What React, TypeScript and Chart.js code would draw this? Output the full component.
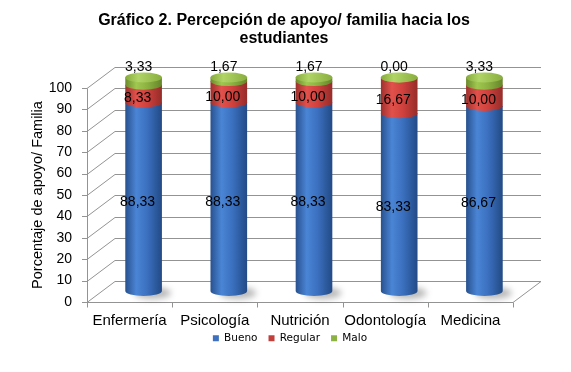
import React, { useEffect, useRef } from "react";
import { Chart, registerables } from "chart.js";

Chart.register(...registerables);

const categories = ["Enfermería", "Psicología", "Nutrición", "Odontología", "Medicina"];
const seriesNames = ["Bueno", "Regular", "Malo"];
const bueno = [88.33, 88.33, 88.33, 83.33, 86.67];
const regular = [8.33, 10.0, 10.0, 16.67, 10.0];
const malo = [3.33, 1.67, 1.67, 0.0, 3.33];
const yMin = 0;
const yMax = 100;
const yStep = 10;
const titleLines = ["Gráfico 2. Percepción de apoyo/ familia hacia los", "estudiantes"];
const yTitle = "Porcentaje de apoyo/ Familia";

const legendColors = ["#3d70bf", "#c2403c", "#8db244"];
const gradStops = [
  [[0, "#28518e"], [0.3, "#4a85d5"], [0.6, "#3b70bf"], [1, "#224a85"]],
  [[0, "#9e302d"], [0.3, "#e2514c"], [0.6, "#cf413d"], [1, "#952c29"]],
  [[0, "#6b8a2c"], [0.3, "#a0c750"], [0.6, "#8cb141"], [1, "#65852a"]],
];
const capStops = [[0, "#86aa3c"], [0.35, "#b0d465"], [1, "#8aad40"]];

const DX = 28;
const DY = -21;
const RY = 5;
const FONT = "'Liberation Sans', Arial, sans-serif";

const fmt = (v: number) => v.toFixed(2).replace(".", ",");

const walls3d = {
  id: "walls3d",
  afterLayout(chart: any) {
    const lg = chart.legend;
    if (lg) {
      lg.left += 21;
      lg.right += 21;
      lg.top -= 8;
      lg.bottom -= 8;
    }
    const tb = chart.titleBlock;
    if (tb) {
      tb.left += 15;
      tb.right += 15;
    }
  },
  beforeDatasetsDraw(chart: any) {
    const { ctx, chartArea } = chart;
    const y = chart.scales.y;
    const { left, right, bottom, top } = chartArea;
    ctx.save();
    ctx.strokeStyle = "#939393";
    ctx.lineWidth = 1;
    ctx.beginPath();
    for (let v = yMin; v <= yMax; v += yStep) {
      const fy = Math.round(y.getPixelForValue(v)) + 0.5;
      if (v > yMin) {
        ctx.moveTo(left, fy);
        ctx.lineTo(left + DX, fy + DY);
        ctx.lineTo(right + DX, fy + DY);
      }
      ctx.moveTo(left - 5, fy);
      ctx.lineTo(left, fy);
    }
    const fb = Math.round(bottom) + 0.5;
    ctx.moveTo(left, fb);
    ctx.lineTo(right, fb);
    ctx.lineTo(right + DX, fb + DY);
    ctx.lineTo(left + DX, fb + DY);
    ctx.lineTo(left, fb);
    const lx = Math.round(left) + 0.5;
    ctx.moveTo(lx, Math.round(top) + 0.5);
    ctx.lineTo(lx, fb);
    const n = categories.length;
    for (let i = 0; i <= n; i++) {
      const x = Math.round(left + (i * (right - left)) / n) + 0.5;
      ctx.moveTo(x, fb);
      ctx.lineTo(x, fb + 5);
    }
    ctx.stroke();
    ctx.restore();
  },
  beforeDatasetDraw() {
    return false;
  },
  afterDatasetsDraw(chart: any) {
    const { ctx } = chart;
    const metas = [0, 1, 2].map((i) => chart.getDatasetMeta(i));
    const n = categories.length;
    for (let j = 0; j < n; j++) {
      const el = metas[0].data[j];
      const cx = el.x + DX / 2;
      const base = el.base + DY / 2;
      const rx = el.width / 2;
      ctx.save();
      ctx.filter = "blur(3px)";
      ctx.fillStyle = "rgba(0,0,0,0.28)";
      ctx.beginPath();
      ctx.ellipse(cx + 9, base + 2, rx, RY + 1, 0, 0, Math.PI * 2);
      ctx.fill();
      ctx.restore();
    }
    for (let j = 0; j < n; j++) {
      let lastTop = 0;
      let cx = 0;
      let rx = 0;
      for (let i = 0; i < 3; i++) {
        const el = metas[i].data[j];
        cx = el.x + DX / 2;
        rx = el.width / 2;
        const top = el.y + DY / 2;
        const base = el.base + DY / 2;
        lastTop = top;
        const g = ctx.createLinearGradient(cx - rx, 0, cx + rx, 0);
        gradStops[i].forEach(([o, c]: any) => g.addColorStop(o, c));
        ctx.fillStyle = g;
        ctx.beginPath();
        ctx.moveTo(cx - rx, top);
        ctx.lineTo(cx - rx, base);
        ctx.ellipse(cx, base, rx, RY, 0, Math.PI, 0, true);
        ctx.lineTo(cx + rx, top);
        ctx.closePath();
        ctx.fill();
      }
      const cg = ctx.createLinearGradient(cx - rx, 0, cx + rx, 0);
      capStops.forEach(([o, c]: any) => cg.addColorStop(o, c));
      ctx.fillStyle = cg;
      ctx.beginPath();
      ctx.ellipse(cx, lastTop, rx, RY, 0, 0, Math.PI * 2);
      ctx.fill();
    }
    ctx.save();
    ctx.font = `14px ${FONT}`;
    ctx.fillStyle = "#000";
    ctx.textAlign = "center";
    ctx.textBaseline = "middle";
    for (let i = 0; i < 3; i++) {
      const vals = chart.data.datasets[i].data;
      for (let j = 0; j < n; j++) {
        const el = metas[i].data[j];
        const cx = el.x + DX / 2;
        const top = el.y + DY / 2;
        const base = el.base + DY / 2;
        if (i < 2) {
          ctx.fillText(fmt(vals[j]), cx - 6, (top + base) / 2 + 5);
        } else {
          ctx.fillText(fmt(vals[j]), cx - 5, top - 10);
        }
      }
    }
    ctx.restore();
  },
};

export default function App() {
  const ref = useRef<HTMLCanvasElement>(null);
  useEffect(() => {
    if (!ref.current) return;
    const data = [bueno, regular, malo];
    const chart = new Chart(ref.current, {
      type: "bar",
      data: {
        labels: categories,
        datasets: seriesNames.map((name, i) => ({
          label: name,
          data: data[i],
          backgroundColor: legendColors[i],
          borderWidth: 0,
          stack: "s",
          barPercentage: 0.86,
          categoryPercentage: 0.5,
        })),
      },
      options: {
        responsive: false,
        animation: false,
        devicePixelRatio: 1,
        layout: { padding: { left: 25, right: 58, top: 0, bottom: 10.5 } },
        scales: {
          x: {
            stacked: true,
            grid: { color: "transparent", tickLength: 5 },
            border: { display: false },
            ticks: {
              color: "#000",
              font: { family: FONT, size: 15 },
              padding: 5,
              maxRotation: 0,
              minRotation: 0,
              autoSkip: false,
            },
            afterFit: (s: any) => {
              s.height = 28;
            },
          },
          y: {
            stacked: true,
            min: yMin,
            max: yMax,
            grid: { color: "transparent", tickLength: 5 },
            border: { display: false },
            ticks: { stepSize: yStep, color: "#000", font: { family: FONT, size: 14 }, padding: 10 },
            title: {
              display: true,
              text: yTitle,
              color: "#000",
              font: { family: FONT, size: 14.5 },
              padding: { top: 4, bottom: 0 },
            },
            afterFit: (s: any) => {
              s.width = 62;
            },
          },
        },
        plugins: {
          title: {
            display: true,
            text: titleLines,
            color: "#000",
            font: { family: FONT, size: 16, weight: "bold", lineHeight: 1.07 },
            padding: { top: 12.5, bottom: 41.3 },
          },
          legend: {
            position: "bottom",
            labels: {
              boxWidth: 6,
              boxHeight: 6,
              color: "#000",
              font: { family: "'DejaVu Sans', sans-serif", size: 10.5 },
              padding: 11,
            },
          },
          tooltip: { enabled: false },
        },
      },
      plugins: [walls3d],
    } as any);
    return () => chart.destroy();
  }, []);
  return (
    <div style={{ position: "absolute", left: 0, top: 0, width: 571, height: 372 }}>
      <canvas ref={ref} width={571} height={372} style={{ width: 571, height: 372 }} />
    </div>
  );
}
